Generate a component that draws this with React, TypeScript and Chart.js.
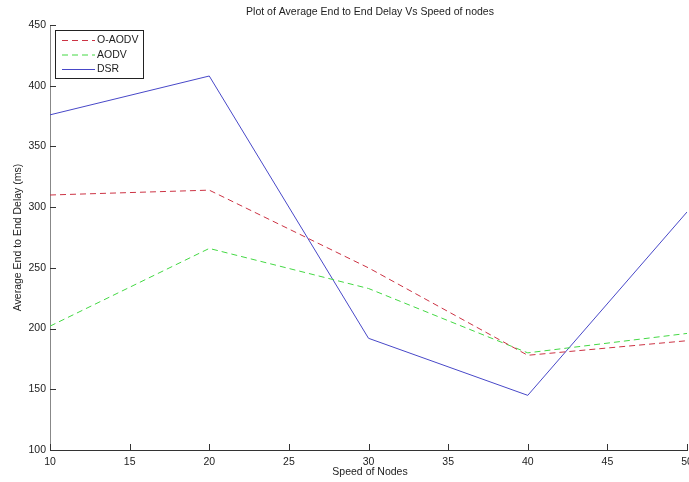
import React, { useEffect, useRef } from "react";
import { Chart, registerables } from "chart.js";
Chart.register(...registerables);

const speeds = [10, 20, 30, 40, 50];
const oAodv = [310, 314, 250, 178, 190];
const aodv = [202, 266, 233, 180, 196];
const dsr = [376, 408, 192, 145, 296];
const xTicks = [10, 15, 20, 25, 30, 35, 40, 45, 50];
const yTicks = [100, 150, 200, 250, 300, 350, 400, 450];

const FONT = "Liberation Sans, Arial, sans-serif";
const FS = 10.5;

const decor = {
  id: "decor",
  afterDraw(chart: any) {
    const ctx = chart.ctx;
    const area = chart.chartArea;
    const xs = chart.scales.x;
    const ys = chart.scales.y;
    ctx.save();
    ctx.strokeStyle = "#333";
    ctx.lineWidth = 1;
    ctx.beginPath();
    for (const t of xTicks) {
      const px = Math.round(xs.getPixelForValue(t)) + 0.5;
      ctx.moveTo(px, area.bottom);
      ctx.lineTo(px, area.bottom - 6);
    }
    for (const t of yTicks) {
      const py = Math.round(ys.getPixelForValue(t)) + 0.5;
      ctx.moveTo(area.left, py);
      ctx.lineTo(area.left + 6, py);
    }
    ctx.stroke();
    ctx.fillStyle = "#222";
    ctx.font = FS + "px " + FONT;
    ctx.textAlign = "center";
    ctx.textBaseline = "middle";
    ctx.fillText("Plot of Average End to End Delay Vs Speed of nodes", 370, 12);
    ctx.fillText("Speed of Nodes", 370, 472);
    ctx.save();
    ctx.translate(18, (area.top + area.bottom) / 2);
    ctx.rotate(-Math.PI / 2);
    ctx.fillText("Average End to End Delay (ms)", 0, 0);
    ctx.restore();
    const lx = 55.5, ly = 30.5, lw = 88, lh = 48;
    ctx.fillStyle = "#fff";
    ctx.fillRect(lx, ly, lw, lh);
    ctx.strokeStyle = "#222";
    ctx.strokeRect(lx, ly, lw, lh);
    ctx.textAlign = "left";
    chart.data.datasets.forEach((ds: any, i: number) => {
      const y = ly + 10 + i * 14.5;
      ctx.strokeStyle = ds.borderColor;
      ctx.setLineDash(ds.borderDash || []);
      ctx.beginPath();
      ctx.moveTo(62, y);
      ctx.lineTo(95, y);
      ctx.stroke();
      ctx.setLineDash([]);
      ctx.fillStyle = "#222";
      ctx.fillText(ds.label, 97, y);
    });
    ctx.restore();
  },
};

export default function App() {
  const ref = useRef<HTMLCanvasElement>(null);
  useEffect(() => {
    document.body.style.margin = "0";
    const chart = new Chart(ref.current!, {
      type: "line",
      data: {
        datasets: [
          { label: "O-AODV", data: speeds.map((s, i) => ({ x: s, y: oAodv[i] })), borderColor: "#cc3344", borderDash: [6, 4], borderWidth: 1, pointRadius: 0, tension: 0 },
          { label: "AODV", data: speeds.map((s, i) => ({ x: s, y: aodv[i] })), borderColor: "#44d844", borderDash: [6, 4], borderWidth: 1, pointRadius: 0, tension: 0 },
          { label: "DSR", data: speeds.map((s, i) => ({ x: s, y: dsr[i] })), borderColor: "#4848c8", borderWidth: 1, pointRadius: 0, tension: 0 },
        ],
      },
      options: {
        animation: false,
        responsive: false,
        layout: { padding: { top: 25, right: 2, left: 0, bottom: 0 } },
        plugins: { legend: { display: false }, title: { display: false }, tooltip: { enabled: false } },
        scales: {
          x: {
            type: "linear",
            min: 10,
            max: 50,
            afterBuildTicks: (s: any) => { s.ticks = xTicks.map((v) => ({ value: v })); },
            afterFit: (s: any) => { s.height = 32; s.paddingLeft = 0; s.paddingRight = 0; },
            grid: { display: false, drawTicks: false },
            border: { display: true, color: "#333" },
            ticks: { color: "#222", font: { family: FONT, size: FS }, padding: 6, maxRotation: 0 },
          },
          y: {
            type: "linear",
            min: 100,
            max: 450,
            afterBuildTicks: (s: any) => { s.ticks = yTicks.map((v) => ({ value: v })); },
            afterFit: (s: any) => { s.width = 50; s.paddingTop = 0; s.paddingBottom = 0; },
            grid: { display: false, drawTicks: false },
            border: { display: true, color: "#888" },
            ticks: { color: "#222", font: { family: FONT, size: FS }, padding: 4 },
          },
        },
      },
      plugins: [decor],
    });
    return () => chart.destroy();
  }, []);
  return (
    <div style={{ position: "absolute", left: 0, top: 0, width: 689, height: 482, background: "#fff" }}>
      <canvas ref={ref} width={689} height={482} style={{ width: 689, height: 482 }} />
    </div>
  );
}
